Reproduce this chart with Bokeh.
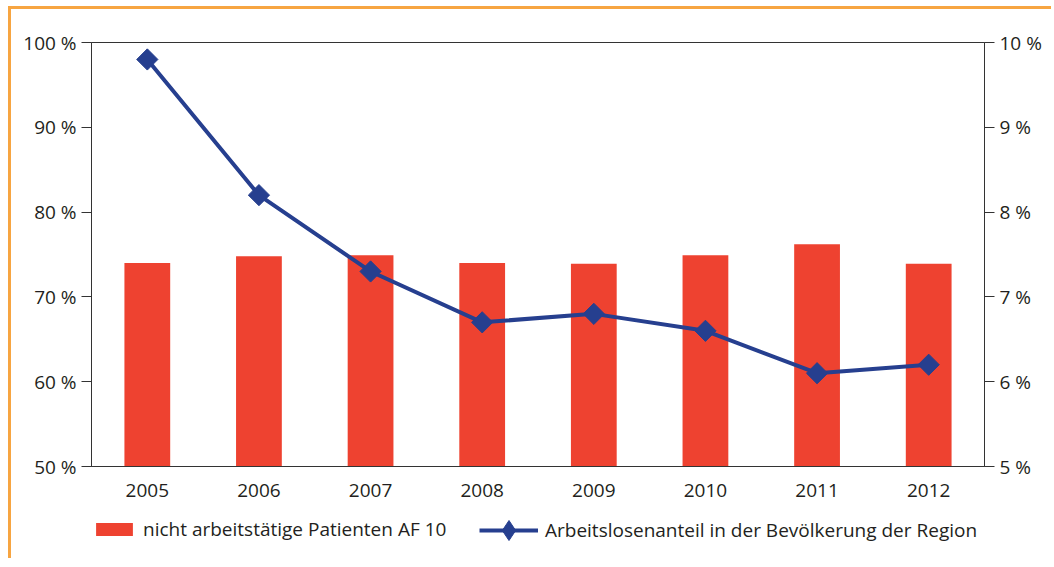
import math
from bokeh.plotting import figure
from bokeh.layouts import column
from bokeh.models import Range1d, LinearAxis, Legend, LegendItem, FixedTicker, CustomJSTickFormatter, ColumnDataSource, FactorRange
from bokeh.embed import file_html
from bokeh.resources import INLINE

years = ["2005", "2006", "2007", "2008", "2009", "2010", "2011", "2012"]
patients = [74.0, 74.8, 74.9, 74.0, 73.9, 74.9, 76.2, 73.9]
unemployment = [9.8, 8.2, 7.3, 6.7, 6.8, 6.6, 6.1, 6.2]
left_ticks = [50, 60, 70, 80, 90, 100]
right_ticks = [5, 6, 7, 8, 9, 10]
bar_label = "nicht arbeitstätige Patienten AF 10"
line_label = "Arbeitslosenanteil in der Bevölkerung der Region"

FONT = "Open Sans"
TXT = "#231f20"
AX = "#333333"
RED = "#ee4230"
NAVY = "#263f8f"

src = ColumnDataSource(dict(year=years, pat=patients, unemp=unemployment))

p = figure(frame_width=893, frame_height=424, x_range=FactorRange(*years), y_range=Range1d(50, 100),
           output_backend="svg", toolbar_location=None,
           min_border_left=80, min_border_top=33, min_border_right=67, min_border_bottom=45)
p.extra_y_ranges = {"right": Range1d(5, 10)}
p.grid.visible = False
p.outline_line_color = AX
p.outline_line_width = 1
p.background_fill_color = "white"
p.border_fill_color = "white"

bars = p.vbar(x="year", top="pat", bottom=50, width=0.41, source=src, color=RED, line_color=None)
ln = p.line(x="year", y="unemp", source=src, y_range_name="right", line_color=NAVY, line_width=4)
mk = p.scatter(x="year", y="unemp", source=src, y_range_name="right", marker="square",
               angle=math.pi / 4, size=15, fill_color=NAVY, line_color=NAVY)

ya = p.yaxis[0]
ya.ticker = FixedTicker(ticks=left_ticks)
ya.formatter = CustomJSTickFormatter(code="return tick + ' %';")

ra = LinearAxis(y_range_name="right", ticker=FixedTicker(ticks=right_ticks),
                formatter=CustomJSTickFormatter(code="return tick + ' %';"))
p.add_layout(ra, "right")

for a in [ya, ra]:
    a.major_tick_in = 0
    a.major_tick_out = 10
    a.minor_tick_line_color = None
    a.axis_line_color = AX
    a.major_tick_line_color = AX
    a.major_label_text_font = FONT
    a.major_label_text_font_size = "19px"
    a.major_label_text_color = TXT
    a.major_label_standoff = 5

xa = p.xaxis[0]
xa.major_tick_line_color = None
xa.major_tick_out = 0
xa.major_tick_in = 0
xa.axis_line_color = AX
xa.major_label_text_font = FONT
xa.major_label_text_font_size = "19px"
xa.major_label_text_color = TXT
xa.major_label_standoff = 17

# legend strip: separate figure so the legend is not clipped by the chart frame.
# Its renderers use the same data but a y-range far away, so only the legend glyphs show.
lf = figure(width=1040, height=47, output_backend="svg", toolbar_location=None,
            x_range=FactorRange(*years), y_range=Range1d(1000, 1001),
            min_border_left=80, min_border_top=0, min_border_right=0, min_border_bottom=0)
lf.axis.visible = False
lf.grid.visible = False
lf.outline_line_color = None
lf.background_fill_color = "white"
lf.border_fill_color = "white"
lb = lf.vbar(x="year", top="pat", width=0.41, source=src, color=RED, line_color=None)
ll = lf.line(x="year", y="unemp", source=src, line_color=NAVY, line_width=4)
lm = lf.scatter(x="year", y="unemp", source=src, marker="diamond", size=20,
                fill_color=NAVY, line_color=NAVY)

common = dict(orientation="horizontal", border_line_color=None, background_fill_alpha=0,
              padding=0, margin=0, label_text_font=FONT, label_text_font_size="19px",
              label_text_color=TXT)
leg1 = Legend(items=[LegendItem(label=bar_label, renderers=[lb])], location=(0, 16),
              glyph_width=46, glyph_height=16, label_standoff=6, **common)
leg2 = Legend(items=[LegendItem(label=line_label, renderers=[ll, lm])], location=(388, 3),
              glyph_width=59, glyph_height=50, label_standoff=7, **common)
lf.add_layout(leg1, "center")
lf.add_layout(leg2, "center")

layout = column(p, lf, spacing=0)
layout.styles = {"border-top": "3px solid #f7a541", "border-left": "3px solid #f7a541",
                 "margin-left": "8px", "margin-top": "6px"}

open("out.html", "w").write(file_html(layout, INLINE))
